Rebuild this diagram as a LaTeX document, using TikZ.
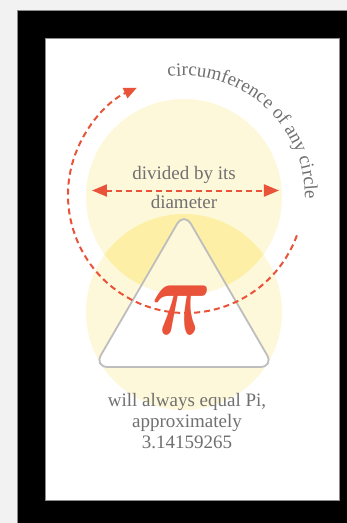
\documentclass[tikz,border=0pt]{standalone}
\usepackage{fontspec}
\setmainfont{Liberation Serif}
\usepackage{bm}
\usepackage{tikz}
\usetikzlibrary{arrows.meta}
\usetikzlibrary{decorations.text}
\definecolor{bggray}{HTML}{F2F2F2}
\definecolor{edgegray}{HTML}{8C8C8C}
\definecolor{lightyel}{HTML}{FEF8DB}
\definecolor{overyel}{HTML}{FDF0A6}
\definecolor{pired}{HTML}{E8533A}
\definecolor{txtgray}{HTML}{707070}
\definecolor{trigray}{HTML}{BDBDBD}
\newcommand{\tripath}{(0,-15) -- (-90,-170) -- (90,-170) -- cycle}

\begin{document}
\begin{tikzpicture}[x=1pt, y=1pt,
    reddash/.style = {pired, line width=2pt, dash pattern=on 6pt off 4pt},
    redtip/.tip = {Triangle[length=13pt, width=11pt]},
    widetip/.tip = {Triangle[length=15pt, width=12pt]},
    label/.style = {txtgray, inner sep=0, font=\fontsize{19}{21}\selectfont}]
    \useasboundingbox (-184,197) rectangle (163,-326);
    \fill[bggray] (-184,197) rectangle (163,-326);
    \fill[black] (-167,187) rectangle (163,-326);
    \draw[edgegray, line width=.8pt] (-167,-326) -- (-167,187) -- (163,187);
    \fill[white] (-139,159) rectangle (155,-303);
    \draw[edgegray, line width=.6pt] (-139,159) rectangle (155,-303);
    \fill[lightyel] (0,-115) circle (98);
    \fill[lightyel] (0,0) circle (98);
    \begin{scope}
    \clip (0,0) circle (98);
    \fill[overyel] (0,-115) circle (98);
    \end{scope}
    \fill[white, rounded corners=14] \tripath;
    \begin{scope}
    \clip (0,0) circle (98);
    \fill[lightyel, rounded corners=14] \tripath;
    \end{scope}
    \draw[trigray, line width=1.8pt, rounded corners=14] \tripath;
    \draw[reddash, -redtip] ([shift={(2,2)}]-20:118) arc[start angle=-20, end angle=-245.4, radius=118];
    \coordinate (dl) at (-92,6.5);
    \coordinate (dr) at (95,6.5);
    \draw[reddash, widetip-widetip] (dl) -- (dr);
    \node[label, anchor=base] (div) at (0,18) {divided by its};
    \node[label, anchor=base] (diam) at (0,-11) {diameter};
    \node[pired, font=\Huge, xscale=3.3, yscale=4.4] (pi) at (-2,-113) {$\bm{\pi}$};
    \node[label, align=center] (result) at (3,-224) {will always equal Pi,\\approximately\\3.14159265};
    \path[decorate, decoration={text along path, text align=left,
        text={|\color{txtgray}\fontsize{19}{19}\selectfont|circumference of any circle}}]
        (97.6:121) arc[start angle=97.6, end angle=-20, radius=121];
\end{tikzpicture}
\end{document}
